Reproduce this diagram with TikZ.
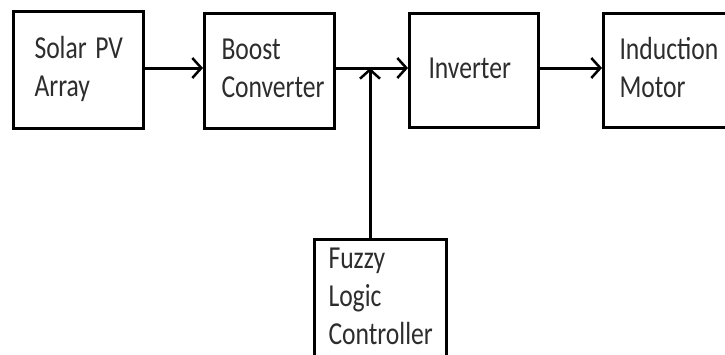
\documentclass[tikz,border=0pt]{standalone}
\usepackage{fontspec}
\usepackage{graphicx}
\setmainfont{Carlito}
\usetikzlibrary{arrows.meta}
\definecolor{txt}{RGB}{45,45,45}
\newcommand{\blktext}[1]{\scalebox{0.8}[1]{\begin{tabular}{@{}l@{}}#1\end{tabular}}}
\begin{document}
\begin{tikzpicture}[x=1pt,y=-1pt,
  blk/.style={draw, line width=3pt, rectangle, inner ysep=0pt, align=left,
    text=txt, font=\fontsize{32}{38}\selectfont, anchor=north west},
  arr/.style={line width=3pt, -{Straight Barb[length=9pt,width=20pt,line width=2.5pt]}}]
\useasboundingbox (0,0) rectangle (725,354);
\fill[white] (0,0) rectangle (725,354);
\node[blk, minimum height=117pt, inner xsep=21pt, text width=88pt] (solar) at (12,10) {\blktext{Solar PV\\Array}};
\node[blk, minimum height=115pt, inner xsep=17pt, text width=96pt] (boost) at (203,12) {\blktext{Boost\\Converter}};
\node[blk, minimum height=114pt, inner xsep=19pt, text width=91pt] (inv) at (408,12) {\blktext{Inverter}};
\node[blk, minimum height=114pt, inner xsep=16pt, text width=94pt] (motor) at (602,12) {\blktext{Induction\\Motor}};
\node[blk, minimum height=118pt, inner xsep=14pt, text width=104pt] (flc) at (313,238) {\blktext{Fuzzy\\Logic\\Controller}};
\coordinate (j) at (370,68);
\draw[arr] (solar.east |- j) -- (boost.west |- j);
\draw[arr] (boost.east |- j) -- (inv.west |- j);
\draw[arr] (inv.east |- j) -- (motor.west |- j);
\draw[arr] (flc.north -| j) -- (j);
\end{tikzpicture}
\end{document}
